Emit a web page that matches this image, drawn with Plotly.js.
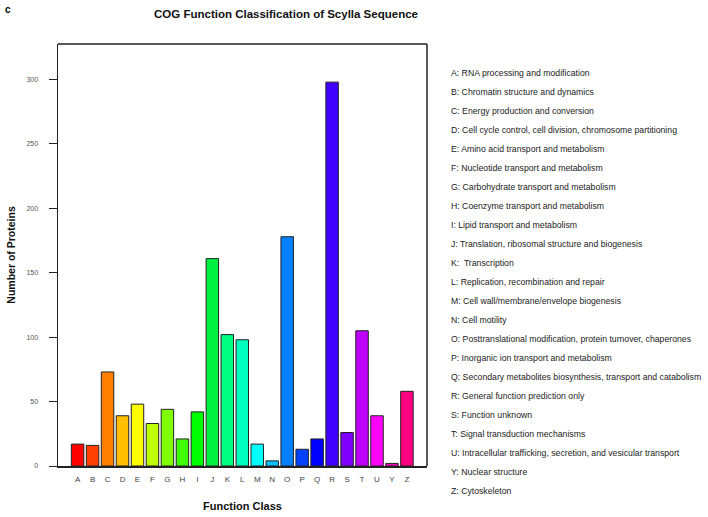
<!DOCTYPE html>
<html>
<head>
<meta charset="utf-8">
<script src="https://cdn.plot.ly/plotly-3.0.1.min.js"></script>
<style>html,body{margin:0;padding:0;background:#fff;}#chart{width:708px;height:517px;}</style>
</head>
<body>
<div id="chart"></div>
<script>
var categories = ["A","B","C","D","E","F","G","H","I","J","K","L","M","N","O","P","Q","R","S","T","U","Y","Z"];
var counts = [17,16,73,39,48,33,44,21,42,161,102,98,17,4,178,13,21,298,26,105,39,2,58];
var barColors = ["#FF0000","#FF4000","#FF8000","#FFBF00","#FFFF00","#BFFF00","#80FF00","#40FF00","#00FF00","#00F040","#00FF80","#00FFBF","#00FFFF","#00BFFF","#0080FF","#0040FF","#0000FF","#4000FF","#8000FF","#BF00FF","#FF00FF","#FF00BF","#FF0080"];
var descriptions = [
  "A: RNA processing and modification",
  "B: Chromatin structure and dynamics",
  "C: Energy production and conversion",
  "D: Cell cycle control, cell division, chromosome partitioning",
  "E: Amino acid transport and metabolism",
  "F: Nucleotide transport and metabolism",
  "G: Carbohydrate transport and metabolism",
  "H: Coenzyme transport and metabolism",
  "I: Lipid transport and metabolism",
  "J: Translation, ribosomal structure and biogenesis",
  "K:  Transcription",
  "L: Replication, recombination and repair",
  "M: Cell wall/membrane/envelope biogenesis",
  "N: Cell motility",
  "O: Posttranslational modification, protein turnover, chaperones",
  "P: Inorganic ion transport and metabolism",
  "Q: Secondary metabolites biosynthesis, transport and catabolism",
  "R: General function prediction only",
  "S: Function unknown",
  "T: Signal transduction mechanisms",
  "U: Intracellular trafficking, secretion, and vesicular transport",
  "Y: Nuclear structure",
  "Z: Cytoskeleton"
];
var yTicks = [0,50,100,150,200,250,300];

var FONT = "'Liberation Sans', Arial, Helvetica, sans-serif";

// plot area geometry in px
var W = 708, H = 517;
var mL = 58, mR = 281, mT = 44, mB = 51;
var plotH = H - mT - mB;
var plotW = W - mL - mR;

var annotations = [];
// description list on the right
var legX0 = 449, legY0 = 73, legStep = 19;
descriptions.forEach(function(d, i){
  annotations.push({
    xref: "paper", yref: "paper",
    x: (legX0 - mL) / plotW,
    y: (H - mB - (legY0 + i*legStep)) / plotH,
    xanchor: "left", yanchor: "middle",
    text: d, showarrow: false,
    font: {family: FONT, size: 8.7, color: "#222"}
  });
});
// panel label
annotations.push({
  xref: "paper", yref: "paper",
  x: (3 - mL) / plotW, y: (H - mB - 9) / plotH,
  xanchor: "left", yanchor: "middle",
  text: "<b>c</b>", showarrow: false,
  font: {family: FONT, size: 10, color: "#000"}
});

var trace = {
  type: "bar",
  x: categories,
  y: counts,
  marker: {color: barColors, line: {color: "#222", width: 1}},
  hoverinfo: "x+y"
};

var layout = {
  width: W, height: H,
  margin: {l: mL, r: mR, t: mT, b: mB, pad: 0},
  paper_bgcolor: "#fff",
  plot_bgcolor: "#fff",
  showlegend: false,
  bargap: 0.1667,
  title: {
    text: "<b>COG Function Classification of Scylla Sequence</b>",
    x: 286 / W, xanchor: "center",
    y: 1 - 14 / H, yanchor: "middle",
    font: {family: FONT, size: 11.5, color: "#111"}
  },
  xaxis: {
    type: "category",
    range: [-1.31, 23.34],
    showgrid: false, zeroline: false,
    showline: true, linecolor: "#222", linewidth: 1.5, mirror: false,
    ticks: "", ticklen: 0,
    ticklabelstandoff: 5,
    tickfont: {family: FONT, size: 8, color: "#444"},
    title: {text: "<b>Function Class</b>", standoff: 19,
            font: {family: FONT, size: 11, color: "#111"}},
    fixedrange: true
  },
  yaxis: {
    range: [0, 327.6],
    tickvals: yTicks,
    showgrid: false, zeroline: false,
    showline: true, linecolor: "#222", linewidth: 1.5,
    ticks: "outside", ticklen: 8, tickcolor: "#222", tickwidth: 1,
    ticklabelstandoff: 9,
    tickfont: {family: FONT, size: 7, color: "#555"},
    title: {text: "<b>Number of Proteins</b>", standoff: 8,
            font: {family: FONT, size: 10.5, color: "#111"}},
    fixedrange: true
  },
  shapes: [
    {type: "line", xref: "paper", yref: "paper", x0: 0, x1: 1, y0: 1, y1: 1, line: {color: "#222", width: 1.5}},
    {type: "line", xref: "paper", yref: "paper", x0: 1, x1: 1, y0: 0, y1: 1, line: {color: "#222", width: 1.5}}
  ],
  annotations: annotations
};

Plotly.newPlot("chart", [trace], layout, {displayModeBar: false, staticPlot: true});
</script>
</body>
</html>
